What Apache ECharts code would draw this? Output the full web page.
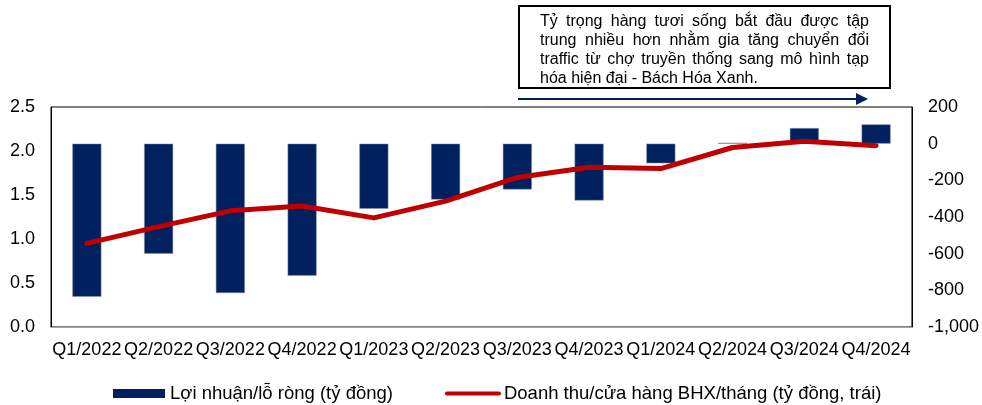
<!DOCTYPE html>
<html>
<head>
<meta charset="utf-8">
<script src="https://cdn.jsdelivr.net/npm/echarts@6/dist/echarts.min.js"></script>
<style>
  html, body { margin: 0; padding: 0; background: #fff; }
  #main { width: 982px; height: 405px; }
</style>
</head>
<body>
<div id="main"></div>
<script>
// dữ liệu
const quarters = ['Q1/2022', 'Q2/2022', 'Q3/2022', 'Q4/2022', 'Q1/2023', 'Q2/2023',
  'Q3/2023', 'Q4/2023', 'Q1/2024', 'Q2/2024', 'Q3/2024', 'Q4/2024'];
const netProfit = [-835, -600, -815, -720, -355, -305, -250, -310, -107, 5, 85, 105];
const revenuePerStore = [0.95, 1.14, 1.32, 1.375, 1.24, 1.43, 1.70, 1.815, 1.80, 2.04, 2.11, 2.06];
const leftTicks = { min: 0, max: 2.5, interval: 0.5 };
const rightTicks = { min: -1000, max: 200, interval: 200 };
const noteLines = [
  'Tỷ trọng hàng tươi sống bắt đầu được tập',
  'trung nhiều hơn nhằm gia tăng chuyển đổi',
  'traffic từ chợ truyền thống sang mô hình tạp',
  'hóa hiện đại - Bách Hóa Xanh.'
];

const font = 'Liberation Sans, Arial, sans-serif';
const navy = '#002060';
const red = '#C00000';

// ghi chú căn đều hai bên (justify)
const noteFont = '16px ' + font;
const noteLeft = 540, noteRight = 869, noteTop = 14, noteLineH = 19;
const ctx = document.createElement('canvas').getContext('2d');
ctx.font = noteFont;
const noteGraphics = [];
noteLines.forEach((line, i) => {
  const y = noteTop + i * noteLineH;
  if (i === noteLines.length - 1) {
    noteGraphics.push({ type: 'text', x: noteLeft, y: y, style: { text: line, font: noteFont, fill: '#000' } });
    return;
  }
  const words = line.split(' ');
  const widths = words.map(w => ctx.measureText(w).width);
  const total = widths.reduce((a, b) => a + b, 0);
  const gap = (noteRight - noteLeft - total) / (words.length - 1);
  let x = noteLeft;
  words.forEach((w, j) => {
    noteGraphics.push({ type: 'text', x: x, y: y, style: { text: w, font: noteFont, fill: '#000' } });
    x += widths[j] + gap;
  });
});

const myChart = echarts.init(document.getElementById('main'));
const option = {
  animation: false,
  textStyle: { fontFamily: font },
  grid: {
    left: 51, right: 68, top: 107, bottom: 78,
    show: true, borderColor: '#000', borderWidth: 1
  },
  legend: {
    left: 108,
    top: 379,
    itemGap: 52,
    itemWidth: 52,
    itemHeight: 9,
    textStyle: { fontSize: 18.5, color: '#000', fontFamily: font },
    data: [
      { name: 'Lợi nhuận/lỗ ròng (tỷ đồng)', icon: 'rect', itemStyle: { borderWidth: 0 } },
      {
        name: 'Doanh thu/cửa hàng BHX/tháng (tỷ đồng, trái)',
        itemStyle: { opacity: 0 },
        lineStyle: { color: red, width: 4, cap: 'round' }
      }
    ]
  },
  xAxis: {
    type: 'category',
    data: quarters,
    axisLine: { show: true, lineStyle: { color: '#a6a6a6', width: 1 } },
    axisTick: { show: false },
    axisLabel: { interval: 0, fontSize: 18, color: '#000', margin: 14, fontFamily: font }
  },
  yAxis: [
    {
      type: 'value',
      min: leftTicks.min, max: leftTicks.max, interval: leftTicks.interval,
      axisLine: { show: true, lineStyle: { color: '#000' } },
      axisTick: { show: false },
      splitLine: { show: false },
      axisLabel: {
        fontSize: 18, color: '#000', margin: 16, fontFamily: font,
        formatter: v => v.toFixed(1)
      }
    },
    {
      type: 'value',
      min: rightTicks.min, max: rightTicks.max, interval: rightTicks.interval,
      axisLine: { show: true, lineStyle: { color: '#000' } },
      axisTick: { show: false },
      splitLine: { show: false },
      axisLabel: {
        fontSize: 18, color: '#000', margin: 16, fontFamily: font,
        formatter: v => v.toLocaleString('en-US')
      }
    }
  ],
  series: [
    {
      name: 'Lợi nhuận/lỗ ròng (tỷ đồng)',
      type: 'bar',
      yAxisIndex: 1,
      barWidth: 29,
      itemStyle: { color: navy, borderColor: '#8497b0', borderWidth: 0.5 },
      data: netProfit,
      z: 2
    },
    {
      name: 'Doanh thu/cửa hàng BHX/tháng (tỷ đồng, trái)',
      type: 'line',
      yAxisIndex: 0,
      symbol: 'none',
      lineStyle: { color: red, width: 5, cap: 'round', join: 'round' },
      itemStyle: { color: red },
      data: revenuePerStore,
      z: 3
    }
  ],
  graphic: [
    {
      type: 'rect',
      shape: { x: 519, y: 6, width: 371, height: 82 },
      style: { fill: '#fff', stroke: '#000', lineWidth: 2 }
    },
    ...noteGraphics,
    {
      type: 'line',
      shape: { x1: 518, y1: 99, x2: 858, y2: 99 },
      style: { stroke: navy, lineWidth: 2 }
    },
    {
      type: 'polygon',
      shape: { points: [[856, 93], [868, 99], [856, 105]] },
      style: { fill: navy }
    }
  ]
};
myChart.setOption(option);
</script>
</body>
</html>
